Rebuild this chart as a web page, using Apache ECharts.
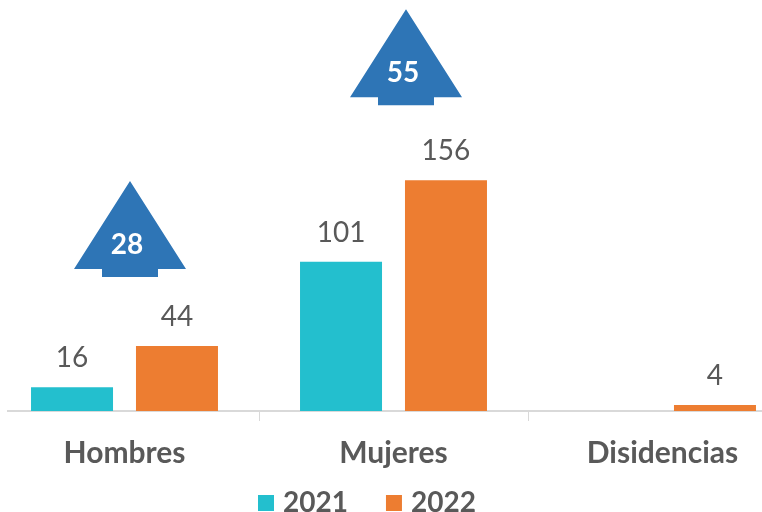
<!DOCTYPE html>
<html>
<head>
<meta charset="utf-8">
<script src="https://cdn.jsdelivr.net/npm/echarts@6/dist/echarts.min.js"></script>
<style>
  html, body { margin: 0; padding: 0; background: #fff; overflow: hidden; }
  /* el eje empieza en x=7 y la tercera categoria queda cortada a la derecha */
  #wrap { position: absolute; left: 7px; top: 0; width: 755px; height: 512px; overflow: hidden; }
  #chart { position: absolute; left: -17px; top: 0; width: 807px; height: 512px; }
</style>
</head>
<body>
<div id="wrap"><div id="chart"></div></div>
<script>
const categories = ['Hombres', 'Mujeres', 'Disidencias'];
const values2021 = [16, 101, null];
const values2022 = [44, 156, 4];
// diferencia 2021-2022, solo donde hay flecha
const arrowValues = [28, 55];

const font = 'Lato';
const textColor = '#595959';

// la flecha se dibuja sobre la barra naranja de su categoria
const arrowData = arrowValues.map((v, i) => [i, values2022[i], v]);
const arrowGap = [69, 75];
const arrowShift = [5.5, 12.5];

function renderArrow(params, api) {
  const i = api.value(0);
  const p = api.coord([i, api.value(1)]);
  const cx = p[0] + arrowShift[i];
  const bottom = p[1] - arrowGap[i];
  return {
    type: 'group',
    children: [
      {
        type: 'polygon',
        shape: {
          points: [
            [cx, bottom - 96],
            [cx + 56, bottom - 8],
            [cx + 28, bottom - 8],
            [cx + 28, bottom],
            [cx - 28, bottom],
            [cx - 28, bottom - 8],
            [cx - 56, bottom - 8]
          ]
        },
        style: { fill: '#2E75B6' }
      },
      {
        type: 'text',
        style: {
          x: cx - 3,
          y: bottom - 32,
          text: String(api.value(2)),
          fill: '#fff',
          font: 'bold 28px ' + font,
          align: 'center',
          verticalAlign: 'middle'
        }
      }
    ]
  };
}

const chart = echarts.init(document.getElementById('chart'), null, { renderer: 'canvas' });
chart.setOption({
  animation: false,
  textStyle: { fontFamily: font },
  legend: {
    data: ['2021', '2022'],
    left: 268,
    top: 489,
    padding: 0,
    itemWidth: 16,
    itemHeight: 16,
    itemGap: 38,
    icon: 'rect',
    textStyle: { color: textColor, fontSize: 28, fontWeight: 'bold', fontFamily: font, padding: [0, 0, 0, 4] }
  },
  grid: { left: 0, right: 0, top: 0, height: 411 },
  xAxis: {
    type: 'category',
    data: categories,
    axisLine: { lineStyle: { color: '#D9D9D9', width: 2 } },
    axisTick: { show: true, length: 10, lineStyle: { color: '#D9D9D9', width: 1 } },
    axisLabel: { color: textColor, fontSize: 30, fontWeight: 'bold', fontFamily: font, margin: 27 }
  },
  yAxis: {
    type: 'value',
    min: 0,
    max: 278,
    show: false,
    splitLine: { show: false }
  },
  series: [
    {
      name: '2021',
      type: 'bar',
      data: values2021,
      barWidth: 82,
      barGap: '28%',
      itemStyle: { color: '#23BFCE' },
      label: { show: true, position: 'top', distance: 15, color: textColor, fontSize: 28, fontFamily: font }
    },
    {
      name: '2022',
      type: 'bar',
      data: values2022,
      barWidth: 82,
      itemStyle: { color: '#ED7D31' },
      label: { show: true, position: 'top', distance: 15, color: textColor, fontSize: 28, fontFamily: font }
    },
    {
      name: 'flechas',
      type: 'custom',
      data: arrowData,
      encode: { x: 0, y: 1 },
      clip: false,
      z: 5,
      renderItem: renderArrow
    }
  ]
});
</script>
</body>
</html>
